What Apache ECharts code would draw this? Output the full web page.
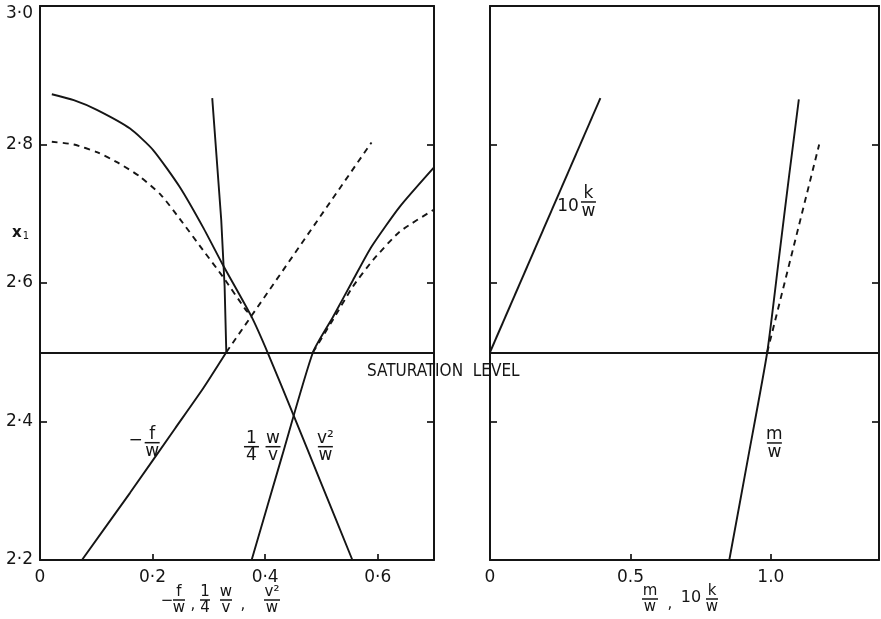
<!DOCTYPE html>
<html>
<head>
<meta charset="utf-8">
<script src="https://cdn.jsdelivr.net/npm/echarts@6/dist/echarts.min.js"></script>
<style>
  html, body { margin: 0; padding: 0; background: #fff; }
  #chart { width: 881px; height: 619px; }
</style>
</head>
<body>
<div id="chart"></div>
<script>
// ---- values (x, x1) ----
const SATURATION = 2.5;

// left panel: -f/w
const fwBelow       = [[0.0745, 2.2], [0.16, 2.297], [0.24, 2.39], [0.29, 2.448], [0.331, 2.5]];
const fwAboveSolid  = [[0.331, 2.5], [0.328, 2.595], [0.322, 2.691], [0.306, 2.867]];
const fwAboveDashed = [[0.331, 2.5], [0.589, 2.803]];

// left panel: v^2/w
const v2wSolid  = [[0.021, 2.8725], [0.06, 2.864], [0.101, 2.85], [0.16, 2.823], [0.201, 2.792], [0.248, 2.739],
                   [0.29, 2.68], [0.325, 2.626], [0.376, 2.551], [0.405, 2.4985], [0.45, 2.41], [0.5, 2.31], [0.555, 2.2]];
const v2wDashed = [[0.021, 2.804], [0.06, 2.8], [0.101, 2.789], [0.14, 2.773], [0.177, 2.754], [0.215, 2.727],
                   [0.248, 2.693], [0.29, 2.647], [0.325, 2.609], [0.364, 2.563], [0.376, 2.551]];

// left panel: (1/4) w/v — solid runs through saturation, dashed branches off above it
const wvSolid       = [[0.376, 2.2], [0.43, 2.35], [0.485, 2.5], [0.5205, 2.551], [0.556, 2.604], [0.5886, 2.652], [0.639, 2.71], [0.7, 2.767]];
const wvAboveDashed = [[0.485, 2.5], [0.5205, 2.547], [0.556, 2.595], [0.5915, 2.633], [0.639, 2.674], [0.7, 2.706]];

// right panel: 10 k/w and m/w
const kw            = [[0, 2.5], [0.393, 2.867]];
const mwSolid       = [[0.852, 2.2], [0.92, 2.35], [0.987, 2.5], [1.03, 2.64], [1.065, 2.755], [1.0996, 2.865]];
const mwAboveDashed = [[0.987, 2.5], [1.172, 2.8]];

// ---- axes ----
const yTicks = [2.2, 2.4, 2.6, 2.8, 3.0];
const yTickLabels = ['2·2', '2·4', '2·6', '2·8', '3·0'];
const leftXTicks = [0, 0.2, 0.4, 0.6];
const leftXTickLabels = ['0', '0·2', '0·4', '0·6'];
const rightXTicks = [0, 0.5, 1.0];
const rightXTickLabels = ['0', '0.5', '1.0'];

// ---- curve labels (anchored at the fraction bar) ----
const leftLabels = [
  { x: 0.1993, y: 2.3694, num: 'f', den: 'w', pre: '−' },
  { x: 0.3757, y: 2.3636, num: '1', den: '4' },
  { x: 0.414,  y: 2.3636, num: 'w', den: 'v' },
  { x: 0.507,  y: 2.3636, num: 'v²', den: 'w' }
];
const rightLabels = [
  { x: 0.3505, y: 2.717, num: 'k', den: 'w', pre: '10' },
  { x: 1.0125, y: 2.369, num: 'm', den: 'w' }
];

// ---- drawing ----
const INK = '#151515';
const FONT = '"DejaVu Sans", "Liberation Sans", sans-serif';
const chart = echarts.init(document.getElementById('chart'));

function textEl(x, y, text, fs) {
  return { type: 'text', style: { x, y, text, fontSize: fs, fontFamily: FONT, fill: INK, align: 'center', verticalAlign: 'middle' } };
}

// numerator over a bar over denominator, bar centred on (cx, cy)
function fraction(cx, cy, num, den, fs, halfW) {
  return [
    textEl(cx, cy - 2 - 0.36 * fs, num, fs),
    { type: 'line', shape: { x1: cx - halfW, y1: cy, x2: cx + halfW, y2: cy }, style: { stroke: INK, lineWidth: 1.5 } },
    textEl(cx, cy + 3 + 0.36 * fs, den, fs)
  ];
}

const PRE_OFFSET = { '−': [-16.5, -2], '10': [-20.5, 5] };

function labelSeries(items, gridIdx) {
  return {
    type: 'custom',
    xAxisIndex: gridIdx * 2,
    yAxisIndex: gridIdx * 2,
    clip: false, silent: true, z: 10,
    data: items.map(d => [d.x, d.y]),
    encode: { x: 0, y: 1 },
    renderItem(params, api) {
      const d = items[params.dataIndex];
      const p = api.coord([d.x, d.y]);
      const children = fraction(p[0], p[1], d.num, d.den, 17, 7.5);
      if (d.pre) {
        const o = PRE_OFFSET[d.pre];
        children.push(textEl(p[0] + o[0], p[1] + o[1], d.pre, 17));
      }
      return { type: 'group', children };
    }
  };
}

function curve(data, gridIdx, dashed, smooth) {
  return {
    type: 'line', data, xAxisIndex: gridIdx * 2, yAxisIndex: gridIdx * 2,
    showSymbol: false, silent: true,
    smooth: smooth ? 0.2 : false,
    lineStyle: { color: INK, width: 1.9, type: dashed ? [6, 5] : 'solid' }
  };
}

function saturationLine(gridIdx) {
  return {
    type: 'line', data: [], xAxisIndex: gridIdx * 2, yAxisIndex: gridIdx * 2, silent: true,
    markLine: {
      symbol: 'none', silent: true, label: { show: false },
      lineStyle: { color: INK, width: 2, type: 'solid' },
      data: [{ yAxis: SATURATION }]
    }
  };
}

const axisLine = { show: true, onZero: false, lineStyle: { color: INK, width: 2 } };
const tickStyle = { lineStyle: { color: INK, width: 1.7 } };

function xAxes(gridIdx, max, ticks, labels) {
  return [
    {
      type: 'value', gridIndex: gridIdx, position: 'bottom', min: 0, max,
      axisLine, splitLine: { show: false },
      axisTick: { show: true, inside: true, length: 6, customValues: ticks.slice(1), ...tickStyle },
      axisLabel: {
        customValues: ticks, margin: 9, color: INK, fontSize: 17, fontFamily: FONT,
        formatter: v => labels[ticks.findIndex(t => Math.abs(t - v) < 1e-9)] ?? ''
      }
    },
    {
      type: 'value', gridIndex: gridIdx, position: 'top', min: 0, max,
      axisLine, splitLine: { show: false }, axisTick: { show: false }, axisLabel: { show: false }
    }
  ];
}

function yAxes(gridIdx, withLabels) {
  const inner = yTicks.slice(1, -1);
  return [
    {
      type: 'value', gridIndex: gridIdx, position: 'left', min: 2.2, max: 3.0,
      axisLine, splitLine: { show: false },
      axisTick: { show: true, inside: true, length: 7, customValues: inner, ...tickStyle },
      axisLabel: withLabels ? {
        customValues: yTicks, margin: 7, color: INK, fontSize: 17, fontFamily: FONT,
        formatter: v => {
          const s = yTickLabels[yTicks.findIndex(t => Math.abs(t - v) < 1e-9)] ?? '';
          return Math.abs(v - 3.0) < 1e-9 ? '{top|' + s + '}' : s;
        },
        rich: { top: { padding: [16, 0, 0, 0], fontSize: 17, fontFamily: FONT, color: INK } }
      } : { show: false }
    },
    {
      type: 'value', gridIndex: gridIdx, position: 'right', min: 2.2, max: 3.0,
      axisLine, splitLine: { show: false },
      axisTick: { show: true, inside: true, length: 7, customValues: inner, ...tickStyle },
      axisLabel: { show: false }
    }
  ];
}

const yA = [...yAxes(0, true), ...yAxes(1, false)];
const xA = [...xAxes(0, 0.7, leftXTicks, leftXTickLabels), ...xAxes(1, 1.385, rightXTicks, rightXTickLabels)];

// axis titles, laid out token by token along one baseline
function titleRow(tokens, barY, fs) {
  const els = [];
  tokens.forEach(t => {
    if (t.num !== undefined) els.push(...fraction(t.x, barY, t.num, t.den, fs, t.w || 6));
    else els.push(textEl(t.x, barY + (t.dy || 0), t.text, t.fs || fs));
  });
  return els;
}

const leftTitle = titleRow([
  { x: 167, text: '−', dy: 1 },
  { x: 179, num: 'f', den: 'w' },
  { x: 193, text: ',', dy: 5 },
  { x: 205, num: '1', den: '4', w: 5 },
  { x: 226, num: 'w', den: 'v' },
  { x: 243, text: ',', dy: 5 },
  { x: 272, num: 'v²', den: 'w', w: 8 }
], 600, 15);

const rightTitle = titleRow([
  { x: 650, num: 'm', den: 'w', w: 8 },
  { x: 670, text: ',', dy: 5 },
  { x: 691, text: '10', dy: -1, fs: 16 },
  { x: 712, num: 'k', den: 'w' }
], 599, 15);

const option = {
  backgroundColor: '#fff',
  animation: false,
  grid: [
    { left: 40, top: 6, width: 394, height: 554 },
    { left: 490, top: 6, width: 389, height: 554 }
  ],
  xAxis: xA,
  yAxis: yA,
  graphic: [
    ...leftTitle, ...rightTitle,
    {
      type: 'text', left: 12, top: 226,
      style: { text: '{x|x}{s|1}', fill: INK, rich: { x: { fontSize: 15, fontFamily: FONT, fontWeight: 'bold', fill: INK }, s: { fontSize: 10, fontFamily: FONT, padding: [6, 0, 0, 1], fill: INK } } }
    },
    {
      type: 'text', left: 367, top: 363,
      style: { text: 'SATURATION  LEVEL', fontSize: 17, fontFamily: '"DejaVu Sans Condensed", "Liberation Sans Narrow", "Liberation Sans", sans-serif', fill: INK }
    }
  ],
  series: [
    saturationLine(0), saturationLine(1),
    curve(fwBelow, 0, false, true), curve(fwAboveSolid, 0), curve(fwAboveDashed, 0, true),
    curve(v2wSolid, 0, false, true), curve(v2wDashed, 0, true, true),
    curve(wvSolid, 0, false, true), curve(wvAboveDashed, 0, true, true),
    curve(kw, 1), curve(mwSolid, 1, false, true), curve(mwAboveDashed, 1, true),
    labelSeries(leftLabels, 0), labelSeries(rightLabels, 1)
  ]
};

chart.setOption(option);
</script>
</body>
</html>
